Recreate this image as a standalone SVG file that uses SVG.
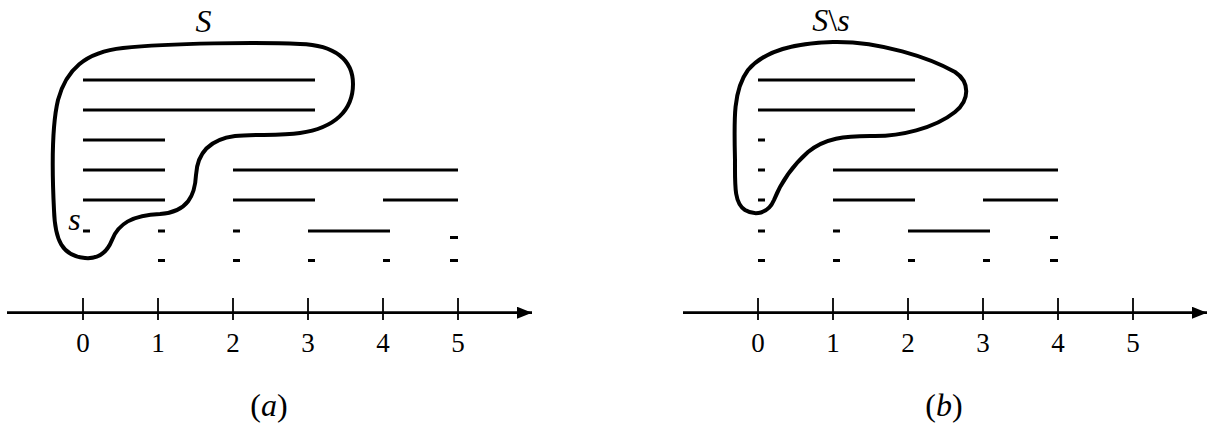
<svg xmlns="http://www.w3.org/2000/svg" width="1212" height="431" viewBox="0 0 1212 431">
<style>
.bg{fill:#fff}
.blob{fill:none;stroke:#000;stroke-width:4;stroke-linejoin:round}
.seg{stroke:#000;stroke-width:3;fill:none}
.axis{stroke:#000;stroke-width:2.8;fill:none}
.tick{stroke:#000;stroke-width:1.8}
.num{font-family:"Liberation Serif","Times New Roman",serif;font-size:27px;fill:#000;text-anchor:middle}
.lab{font-family:"Liberation Serif","Times New Roman",serif;font-size:32px;fill:#000;text-anchor:middle}
.it{font-style:italic}
</style>
<defs>
<marker id="arr" markerWidth="16" markerHeight="12" refX="15" refY="6" orient="auto" markerUnits="userSpaceOnUse">
<path d="M0,0 L15,6 L0,12 Z" fill="#000"/>
</marker>
</defs>
<rect class="bg" x="0" y="0" width="1212" height="431"/>

<g id="panel-a">
<g id="set-S-a">
<path class="blob" d="M123,48 C170,43 260,42 300,44 C335,45 353,60 353,84 C353,110 335,128 300,133 C280,136 255,134 235,136 C205,140 197,158 196,175 C195,195 188,212 160,214 C132,215 118,224 112,240 C106,255 96,259 85,258 C62,256 55,240 54,210 C52,170 52,125 58,100 C66,70 85,52 123,48 Z"/>
<text class="lab it" x="203.5" y="32">S</text>
<text class="lab it" x="74.5" y="229.5">s</text>
</g>
<g id="intervals-a">
<path class="seg" d="M83,80H315 M83,110H315 M83,140H165 M83,170H165 M233,170H458 M83,200H165 M233,200H315 M383,200H458 M83,231H90 M158,231H165 M233,231H240 M308,231H390 M450,237.5H458 M158,260.5H165 M233,260.5H240 M308,260.5H315 M383,260.5H390 M450,260.5H458"/>
</g>
<g id="axis-a">
<path class="axis" d="M7,312.7H532" marker-end="url(#arr)"/>
<path class="tick" d="M83,298V320 M158,298V320 M233,298V320 M308,298V320 M383,298V320 M458,298V320"/>
<text class="num" x="83" y="351.5">0</text>
<text class="num" x="158" y="351.5">1</text>
<text class="num" x="233" y="351.5">2</text>
<text class="num" x="308" y="351.5">3</text>
<text class="num" x="383" y="351.5">4</text>
<text class="num" x="458" y="351.5">5</text>
</g>
<text class="lab" x="269" y="416">(<tspan class="it">a</tspan>)</text>
</g>

<g id="panel-b">
<g id="set-Ss-b">
<path class="blob" d="M833,42 C880,41 930,58 955,72 C970,82 970,100 955,112 C935,128 900,137 870,136 C845,136 825,138 808,152 C790,168 780,185 774,200 C768,214 755,216 745,210 C734,203 735,185 735,160 C734,120 733,90 748,70 C765,50 795,43 833,42 Z"/>
<text class="lab" x="831" y="31"><tspan class="it">S</tspan>\<tspan class="it">s</tspan></text>
</g>
<g id="intervals-b">
<path class="seg" d="M758,80H915 M758,110H915 M758,140H765 M758,170H765 M833,170H1058 M758,200H765 M833,200H915 M983,200H1058 M758,231H765 M833,231H840 M908,231H990 M1050,237.5H1058 M758,260.5H765 M833,260.5H840 M908,260.5H915 M983,260.5H990 M1050,260.5H1058"/>
</g>
<g id="axis-b">
<path class="axis" d="M683,312.7H1207" marker-end="url(#arr)"/>
<path class="tick" d="M758,298V320 M833,298V320 M908,298V320 M983,298V320 M1058,298V320 M1133,298V320"/>
<text class="num" x="758" y="351.5">0</text>
<text class="num" x="833" y="351.5">1</text>
<text class="num" x="908" y="351.5">2</text>
<text class="num" x="983" y="351.5">3</text>
<text class="num" x="1058" y="351.5">4</text>
<text class="num" x="1133" y="351.5">5</text>
</g>
<text class="lab" x="944" y="416">(<tspan class="it">b</tspan>)</text>
</g>
</svg>
